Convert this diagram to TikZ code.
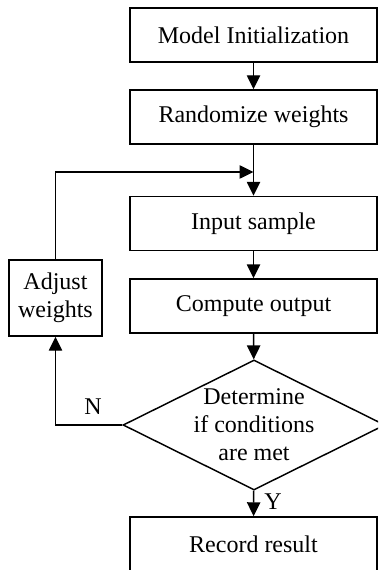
\documentclass[tikz,border=0pt]{standalone}
\usepackage{fontspec}
\setmainfont{Liberation Serif}
\usetikzlibrary{shapes.geometric,arrows.meta}

\tikzset{every picture/.style={line width=1.1pt}}
\tikzset{
	stepbox/.style={draw, minimum width=185.25pt, minimum height=40.5pt, inner sep=0pt, font=\fontsize{18}{21}\selectfont},
	sidebox/.style={draw, minimum width=69.75pt, minimum height=57pt, inner sep=0pt, align=center, font=\fontsize{18}{21}\selectfont},
	decision/.style={draw, diamond, aspect=2, minimum width=196.5pt, minimum height=97.5pt, inner sep=0pt},
	flow/.style={-{Triangle[length=10.5pt,width=10pt]}},
	tag/.style={font=\fontsize{18}{21}\selectfont}
}

\begin{document}
\begin{tikzpicture}[x=0.75pt,y=0.75pt,yscale=-1,xscale=1]
	\clip (0,0) rectangle (378,570);

	% Boxes
	\node[stepbox] (init) at (253.5,35) {Model Initialization};
	\node[stepbox] (rand) at (253.5,117) {Randomize weights};
	\node[stepbox] (input) at (253.5,223.5) {Input sample};
	\node[stepbox] (comp) at (253.5,306) {Compute output};
	\node[decision, label={[align=center, font=\fontsize{18}{21}\selectfont]center:Determine\\if conditions\\are met}] (check) at (254,425) {};
	\node[stepbox] (rec) at (253.5,544) {Record result};
	\node[sidebox] (adj) at (55.5,298) {Adjust\\weights};
	\coordinate (join) at (rand.south |- 0,172);

	% Straight Lines
	\draw[flow] (init) -- (rand);
	\draw[flow] (rand) -- (input);
	\draw[flow] (input) -- (comp);
	\draw[flow] (comp) -- (check);
	\draw[flow] (check) -- (rec);
	\draw[flow] (check.west) -| (adj.south);
	\draw[flow] (adj.north) |- (join);

	% Text Node
	\node[tag] (no) at (93,407) {N};
	\node[tag] (yes) at (273,502) {Y};
\end{tikzpicture}
\end{document}
